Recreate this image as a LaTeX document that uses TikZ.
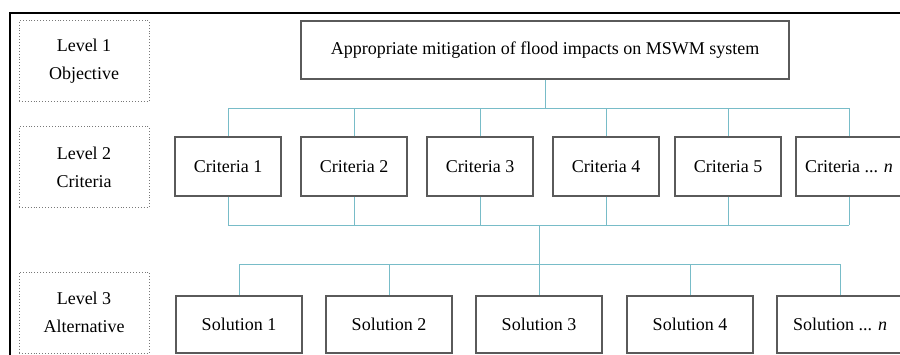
\documentclass[tikz,border=0pt]{standalone}
\usepackage{fontspec}
\setmainfont{Liberation Serif}
\definecolor{boxgray}{RGB}{90,90,90}
\definecolor{dotgray}{RGB}{120,120,120}
\definecolor{linkteal}{RGB}{120,188,200}
\begin{document}
\begin{tikzpicture}[x=1pt,y=-1pt,
  txt/.style={font=\fontsize{18}{28}\selectfont},
  mainbox/.style={txt,draw=boxgray,line width=1.1pt,fill=white,inner sep=0pt,anchor=center},
  levelbox/.style={txt,draw=dotgray,dotted,line width=0.9pt,inner sep=0pt,align=center,
    minimum width=130pt,minimum height=81pt},
  critbox/.style={mainbox,minimum width=106pt,minimum height=59pt},
  solbox/.style={mainbox,minimum width=126pt,minimum height=57pt},
  link/.style={draw=linkteal,line width=1pt}]
\path[use as bounding box,clip] (0,0) rectangle (900,354);

% outer frame
\draw[black,line width=2pt] (9.5,360) -- (9.5,12.7) -- (910,12.7);

% level labels
\node[levelbox] (l1) at (84,61) {Level 1\\Objective};
\node[levelbox] (l2) at (84,167) {Level 2\\Criteria};
\node[levelbox] (l3) at (84,312.5) {Level 3\\Alternative};

% objective
\node[mainbox,minimum width=488pt,minimum height=58pt] (goal) at (545,50)
  {Appropriate mitigation of flood impacts on MSWM system};

% criteria
\node[critbox] (c1) at (228,166.5) {Criteria 1};
\node[critbox] (c2) at (354,166.5) {Criteria 2};
\node[critbox] (c3) at (480,166.5) {Criteria 3};
\node[critbox] (c4) at (606,166.5) {Criteria 4};
\node[critbox] (c5) at (728,166.5) {Criteria 5};
\node[critbox] (cn) at (849,166.5) {Criteria ... \textit{n}};

% alternatives
\node[solbox] (s1) at (239,324.5) {Solution 1};
\node[solbox] (s2) at (389,324.5) {Solution 2};
\node[solbox] (s3) at (539,324.5) {Solution 3};
\node[solbox] (s4) at (690,324.5) {Solution 4};
\node[solbox] (sn) at (840,324.5) {Solution ... \textit{n}};

% bus lines
\coordinate (busA) at (0,108);
\coordinate (busB) at (0,225);
\coordinate (busC) at (0,264);

\draw[link] (goal.south) -- (goal.south |- busA);
\draw[link] (c1.north |- busA) -- (cn.north |- busA);
\foreach \c in {c1,c2,c3,c4,c5,cn}
  \draw[link] (\c.north) -- (\c.north |- busA);

\draw[link] (c1.south |- busB) -- (cn.south |- busB);
\foreach \c in {c1,c2,c3,c4,c5,cn}
  \draw[link] (\c.south) -- (\c.south |- busB);

\draw[link] (s3.north |- busB) -- (s3.north);
\draw[link] (s1.north |- busC) -- (sn.north |- busC);
\foreach \s in {s1,s2,s4,sn}
  \draw[link] (\s.north) -- (\s.north |- busC);
\end{tikzpicture}
\end{document}
